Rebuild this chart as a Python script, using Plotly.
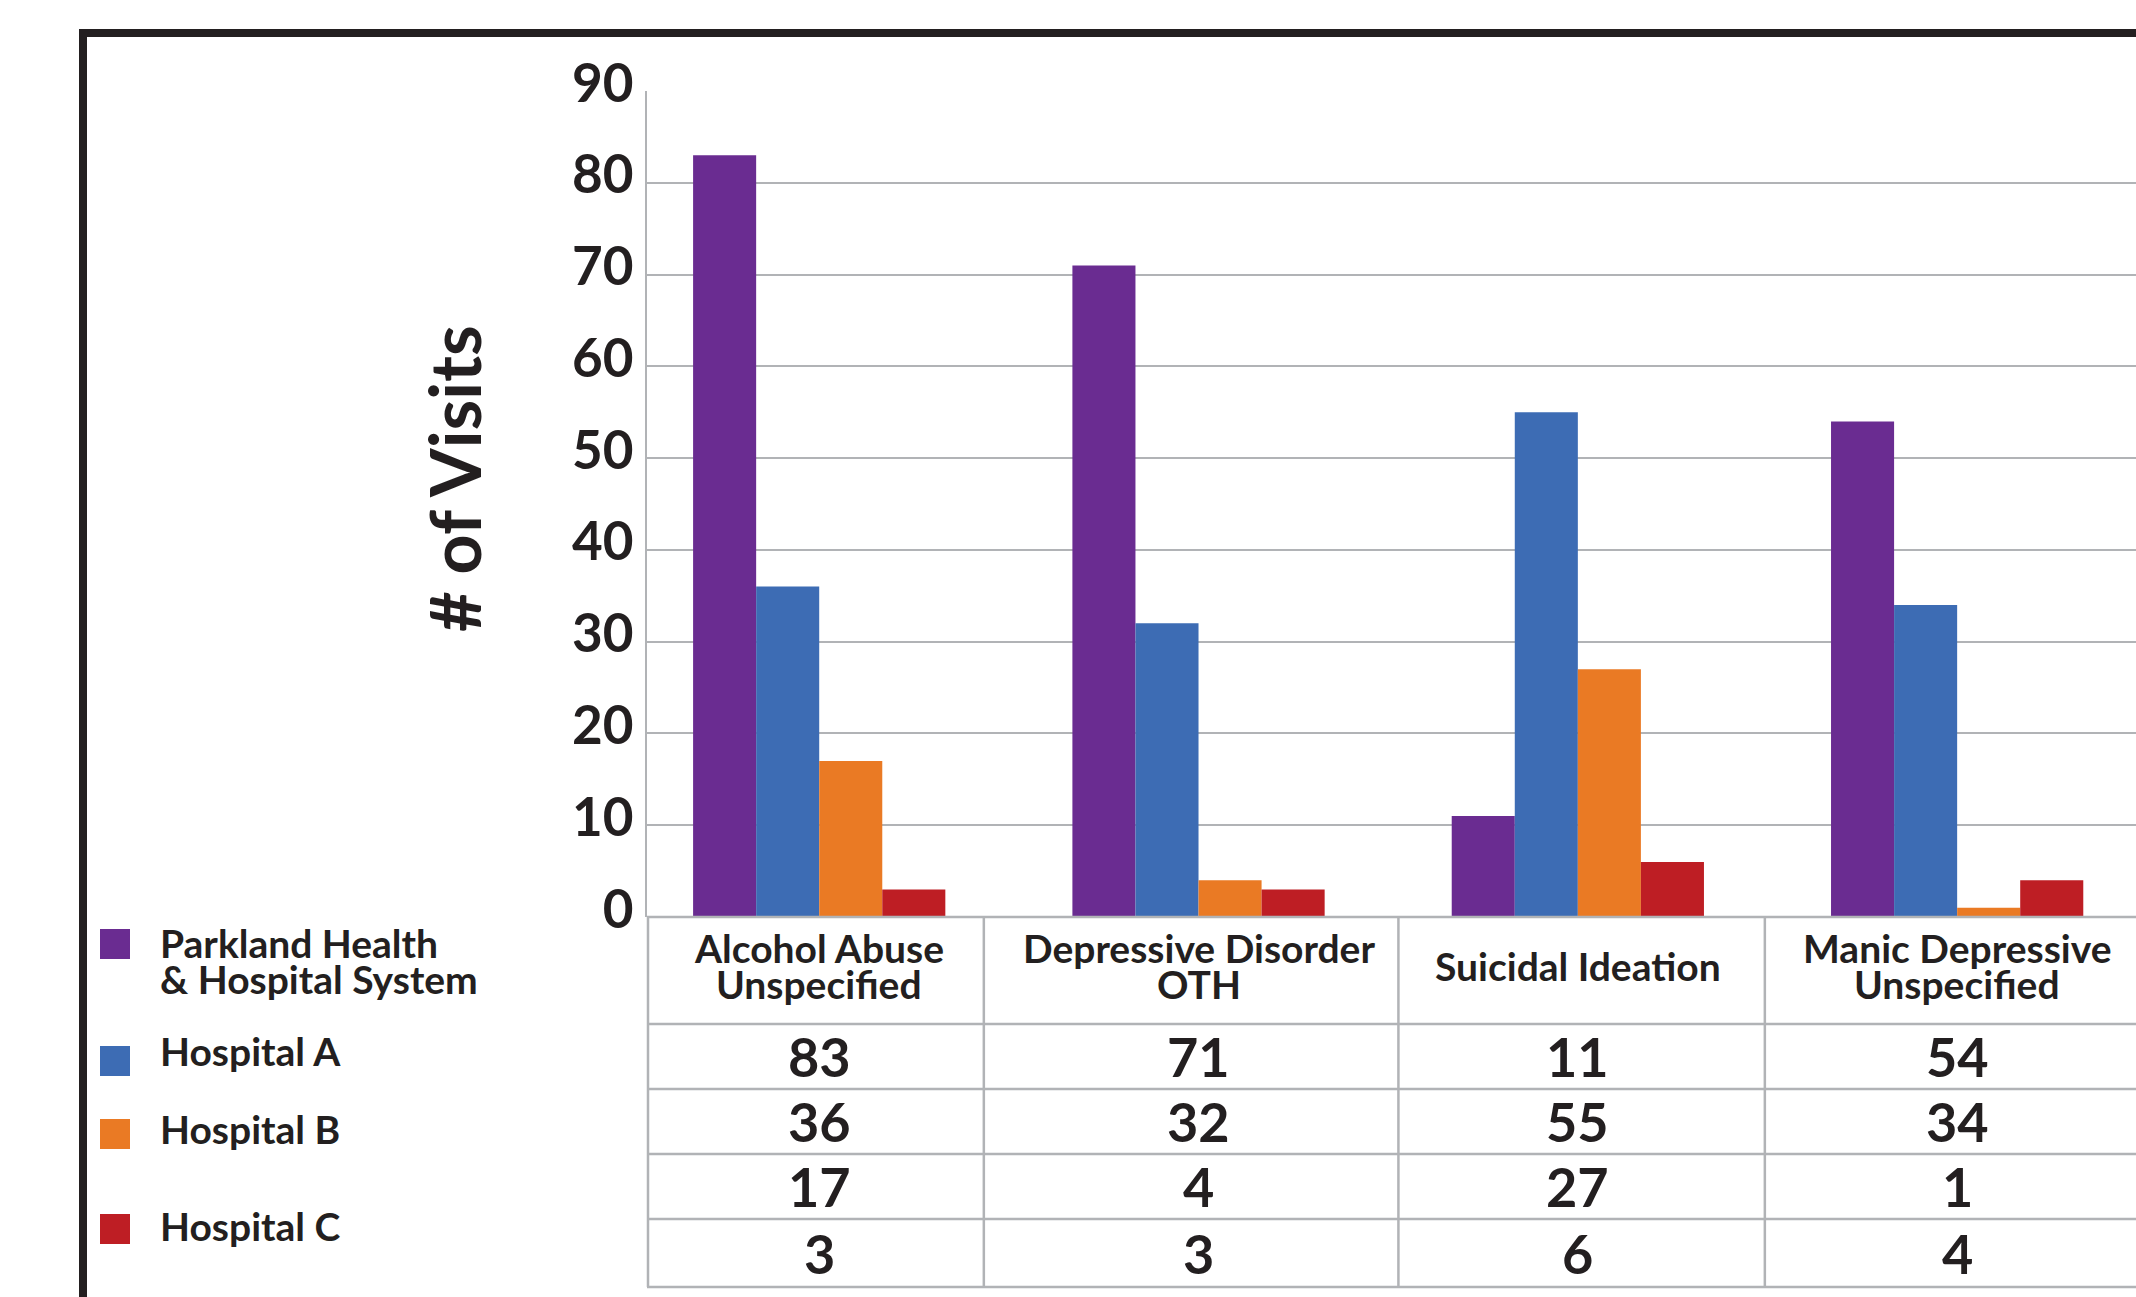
import plotly.graph_objects as go

# ---- data -----------------------------------------------------------------
categories = [
    "Alcohol Abuse<br>Unspecified",
    "Depressive Disorder<br>OTH",
    "Suicidal Ideation",
    "Manic Depressive<br>Unspecified",
]
series_names = [
    "Parkland Health<br>& Hospital System",
    "Hospital A",
    "Hospital B",
    "Hospital C",
]
parkland = [83, 71, 11, 54]
hospital_a = [36, 32, 55, 34]
hospital_b = [17, 4, 27, 1]
hospital_c = [3, 3, 6, 4]
y_ticks = [0, 10, 20, 30, 40, 50, 60, 70, 80, 90]
y_title = "# of Visits"

series_values = [parkland, hospital_a, hospital_b, hospital_c]
colors = ["#6a2c91", "#3d6cb4", "#ea7a24", "#be1e24"]

# ---- page geometry (pixels) ----------------------------------------------
W, H = 2136, 1297
PLOT_L, PLOT_T, PLOT_B = 647, 91, 917
PLOT_R = W
INK = "#231f20"
RULE = "#b1b3b6"
FONT = "Lato"


def px_x(x):
    return (x - PLOT_L) / (PLOT_R - PLOT_L)


def px_y(y):
    return (PLOT_B - y) / (PLOT_B - PLOT_T)


# table rows (pixel y of horizontal rules) and column dividers (category units)
HEADER_BOTTOM = 1024
ROW_RULES = [1089, 1154, 1219, 1287]
COL_DIVIDERS = [0.434, 1.527, 2.493]
HEADER_PITCH = 36

fig = go.Figure()
for name, vals, col in zip(series_names, series_values, colors):
    fig.add_trace(go.Bar(
        x=list(range(len(categories))), y=vals, name=name.replace("<br>", " "),
        marker=dict(color=col, line=dict(width=0)),
        hoverinfo="x+y+name",
    ))

shapes = []
annotations = []

# outer frame (runs off the right and bottom edges of the page)
shapes.append(dict(type="rect", xref="paper", yref="paper",
                   x0=px_x(83), x1=px_x(W + 60), y0=px_y(33), y1=px_y(H + 60),
                   line=dict(color=INK, width=8), fillcolor="rgba(0,0,0,0)",
                   layer="above"))

# data table rules
for yy in [PLOT_B, HEADER_BOTTOM] + ROW_RULES:
    shapes.append(dict(type="line", xref="paper", yref="paper",
                       x0=0, x1=1, y0=px_y(yy), y1=px_y(yy),
                       line=dict(color=RULE, width=2.5)))
shapes.append(dict(type="line", xref="paper", yref="paper",
                   x0=px_x(PLOT_L + 1), x1=px_x(PLOT_L + 1),
                   y0=px_y(PLOT_B), y1=px_y(ROW_RULES[-1]),
                   line=dict(color=RULE, width=2.5)))
for xd in COL_DIVIDERS:
    shapes.append(dict(type="line", xref="x", yref="paper",
                       x0=xd, x1=xd, y0=px_y(PLOT_B), y1=px_y(ROW_RULES[-1]),
                       line=dict(color=RULE, width=2.5)))

# category header text, one annotation per line
header_mid = (PLOT_B + HEADER_BOTTOM) / 2 - 5
for i, cat in enumerate(categories):
    lines = cat.split("<br>")
    n = len(lines)
    for k, ln in enumerate(lines):
        yc = header_mid + (k - (n - 1) / 2) * HEADER_PITCH
        annotations.append(dict(x=i, y=px_y(yc), xref="x", yref="paper",
                                text=ln, showarrow=False,
                                xanchor="center", yanchor="middle",
                                font=dict(family=FONT, size=39, color=INK,
                                          weight="bold")))

# value rows
row_edges = [HEADER_BOTTOM] + ROW_RULES
for r, vals in enumerate(series_values):
    yc = (row_edges[r] + row_edges[r + 1]) / 2
    for i, v in enumerate(vals):
        annotations.append(dict(x=i, y=px_y(yc), xref="x", yref="paper",
                                text=str(v), showarrow=False,
                                xanchor="center", yanchor="middle",
                                font=dict(family=FONT, size=54, color=INK,
                                          weight="bold")))

# legend keys beside the table rows
key_centers = [944, 1061, 1134, 1229]
label_centers = [[943, 979], [1051], [1129], [1226]]
for name, col, yc, ylabels in zip(series_names, colors, key_centers,
                                  label_centers):
    shapes.append(dict(type="rect", xref="paper", yref="paper",
                       x0=px_x(100), x1=px_x(130),
                       y0=px_y(yc - 15), y1=px_y(yc + 15),
                       fillcolor=col, line=dict(width=0)))
    for ln, yl in zip(name.split("<br>"), ylabels):
        annotations.append(dict(x=px_x(158), y=px_y(yl), xref="paper",
                                yref="paper", text=ln, showarrow=False,
                                xanchor="left", yanchor="middle",
                                font=dict(family=FONT, size=39, color=INK,
                                          weight="bold")))

# vertical axis title
annotations.append(dict(x=px_x(454), y=px_y(479), xref="paper", yref="paper",
                        text=y_title, textangle=-90, showarrow=False,
                        xanchor="center", yanchor="middle",
                        font=dict(family=FONT, size=70, color=INK,
                                  weight="bold")))

fig.update_layout(
    width=W, height=H,
    margin=dict(l=PLOT_L, r=W - PLOT_R, t=PLOT_T, b=H - PLOT_B, pad=0),
    paper_bgcolor="white", plot_bgcolor="white",
    barmode="group", bargap=0.335, bargroupgap=0,
    showlegend=False,
    shapes=shapes, annotations=annotations,
    font=dict(family=FONT, color=INK),
)
fig.update_xaxes(range=[-0.454, 3.4715], showticklabels=False, showgrid=False,
                 zeroline=False, showline=False, fixedrange=True)
fig.update_yaxes(range=[0, 90], tickvals=y_ticks, showgrid=True,
                 gridcolor=RULE, gridwidth=2, zeroline=False,
                 showline=True, linecolor=RULE, linewidth=2,
                 ticks="", ticklabelstandoff=1, ticklabelshift=-8,
                 tickfont=dict(family=FONT, size=53, color=INK, weight="bold"),
                 fixedrange=True)

fig.write_html("out.html")
